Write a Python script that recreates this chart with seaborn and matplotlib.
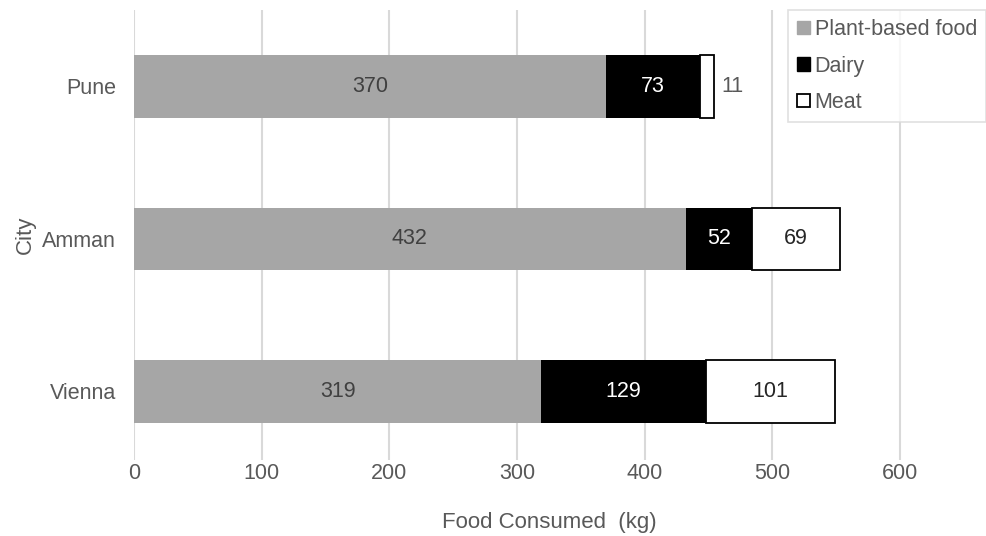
import matplotlib
matplotlib.use("Agg")
import matplotlib.pyplot as plt
import seaborn as sns
import numpy as np
from matplotlib.patches import Patch

cities = ["Pune", "Amman", "Vienna"]
plant = [370, 432, 319]
dairy = [73, 52, 129]
meat = [11, 69, 101]
series_names = ["Plant-based food", "Dairy", "Meat"]
x_ticks = [0, 100, 200, 300, 400, 500, 600]

sns.set_theme(style="white")
plt.rcParams["font.family"] = ["Liberation Sans", "DejaVu Sans"]
TXT = "#595959"

fig = plt.figure(figsize=(9.86, 5.36), dpi=100)
ax = fig.add_axes([134/986, 1-460/536, 830/986, 450/536])

bh = 0.41
sns.barplot(x=plant, y=cities, orient="h", color="#A6A6A6", width=bh,
            saturation=1, ax=ax, linewidth=0, zorder=3)
left2 = np.array(plant)
ax.barh(cities, dairy, left=left2, height=bh, color="black", linewidth=0, zorder=3)
left3 = left2 + np.array(dairy)
ax.barh(cities, meat, left=left3, height=bh, color="white", edgecolor="black",
        linewidth=1.3, zorder=3)

fs = 15.5
for i in range(len(cities)):
    ax.text(plant[i]/2, i, str(plant[i]), ha="center", va="center", color="#404040", fontsize=fs, zorder=5)
    ax.text(plant[i] + dairy[i]/2, i, str(dairy[i]), ha="center", va="center", color="white", fontsize=fs, zorder=5)
    if meat[i] < 30:
        ax.text(left3[i] + meat[i] + 6, i, str(meat[i]), ha="left", va="center", color=TXT, fontsize=fs, zorder=5)
    else:
        ax.text(left3[i] + meat[i]/2, i, str(meat[i]), ha="center", va="center", color="#262626", fontsize=fs, zorder=5)

ax.set_xlim(0, 650)
ax.set_ylim(2.45, -0.5)
ax.set_xticks(x_ticks)
ax.set_xticklabels([str(t) for t in x_ticks], fontsize=fs, color=TXT)
ax.tick_params(axis="y", labelsize=fs, labelcolor=TXT, length=0, pad=13)
ax.tick_params(axis="x", length=0, pad=2)
ax.grid(axis="x", color="#D9D9D9", linewidth=1.5, zorder=0)
ax.set_axisbelow(True)
for s in ax.spines.values():
    s.set_visible(False)
ax.set_xlabel("Food Consumed  (kg)", fontsize=16, color=TXT, labelpad=20)
ax.set_ylabel("City", fontsize=16, color=TXT)
ax.yaxis.set_label_coords((36 - 134) / 830, 0.5)

handles = [Patch(facecolor="#A6A6A6", edgecolor="#A6A6A6"),
           Patch(facecolor="black", edgecolor="black"),
           Patch(facecolor="white", edgecolor="black", linewidth=1.3)]
leg = fig.legend(handles, series_names, loc="upper right",
                 bbox_to_anchor=(986/986, 1-10/536), bbox_transform=fig.transFigure,
                 fontsize=fs, frameon=True, fancybox=False, handlelength=0.6,
                 handleheight=0.6, handletextpad=0.2, labelspacing=0.72,
                 borderpad=0.42, borderaxespad=0, labelcolor=TXT)
leg.get_frame().set_edgecolor("#D9D9D9")
leg.get_frame().set_linewidth(1.2)

fig.savefig("out.png", dpi=100)
